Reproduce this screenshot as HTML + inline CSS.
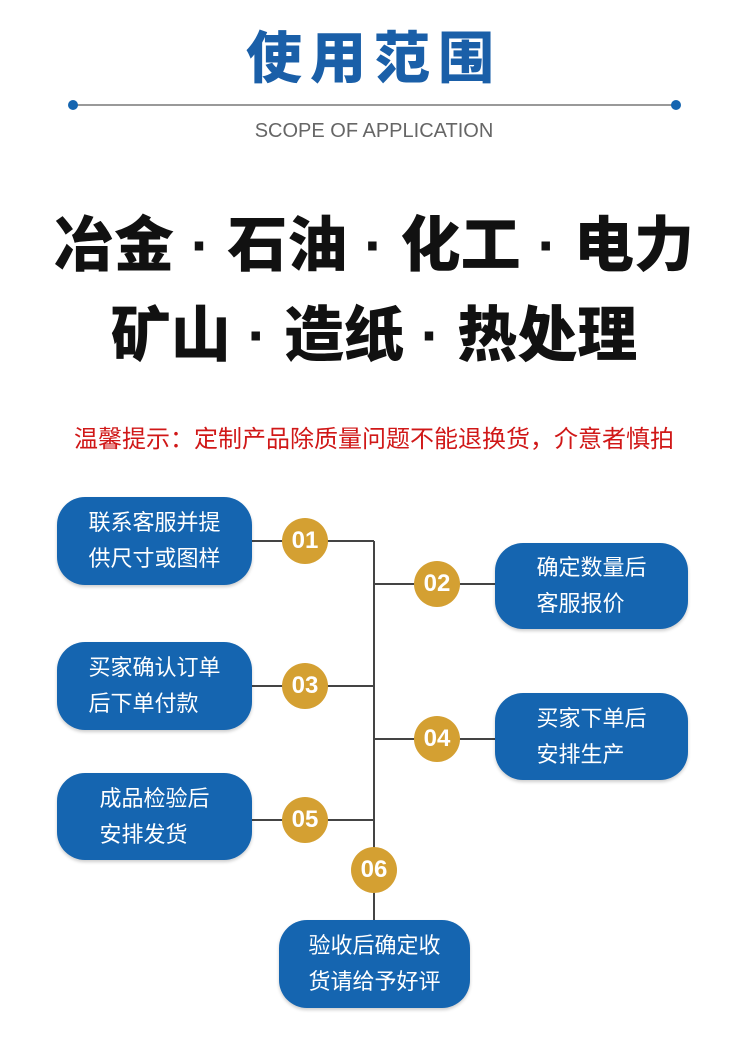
<!DOCTYPE html>
<html><head><meta charset="utf-8"><style>
body{margin:0;width:748px;height:1042px;background:#fff;position:relative;overflow:hidden;font-family:"Liberation Sans","Noto Sans CJK SC",sans-serif}
.a{position:absolute}
.t{left:0;width:748px;text-align:center}
.box{position:absolute;background:#1565b0;border-radius:28px;color:#fff;font-size:22px;line-height:36px;display:flex;align-items:center;justify-content:center;text-align:left;box-shadow:0 2px 3px rgba(0,0,0,.2)}
.c{position:absolute;width:46px;height:46px;border-radius:50%;background:#d4a032;color:#fff;font-weight:bold;font-size:24px;line-height:46px;text-align:center;margin:-23px 0 0 -23px}
.h{position:absolute;height:2px;background:#444}
.v{position:absolute;width:2px;background:#444}
</style></head><body>
<div class="a t" style="top:24px;font-size:56px;font-weight:900;color:#1a5fa8;letter-spacing:8px;line-height:70px">使用范围</div>
<div class="a" style="left:74px;top:104px;width:600px;height:2px;background:#999"></div>
<div class="a" style="left:68px;top:100px;width:10px;height:10px;border-radius:50%;background:#1565b0"></div>
<div class="a" style="left:671px;top:100px;width:10px;height:10px;border-radius:50%;background:#1565b0"></div>
<div class="a t" style="top:118px;font-size:20px;color:#666;line-height:26px">SCOPE OF APPLICATION</div>
<div class="a t" style="top:210px;font-size:60px;font-weight:900;color:#111;line-height:72px">冶金 · 石油 · 化工 · 电力</div>
<div class="a t" style="top:300px;font-size:60px;font-weight:900;color:#111;line-height:72px">矿山 · 造纸 · 热处理</div>
<div class="a t" style="top:424px;font-size:24px;color:#d01818;line-height:32px">温馨提示：定制产品除质量问题不能退换货，介意者慎拍</div>

<div class="v" style="left:373px;top:541px;height:380px"></div>
<div class="h" style="left:252px;top:540px;width:122px"></div>
<div class="h" style="left:374px;top:583px;width:122px"></div>
<div class="h" style="left:252px;top:685px;width:122px"></div>
<div class="h" style="left:374px;top:738px;width:122px"></div>
<div class="h" style="left:252px;top:819px;width:122px"></div>

<div class="box" style="left:57px;top:497px;width:195px;height:88px">联系客服并提<br>供尺寸或图样</div>
<div class="box" style="left:495px;top:543px;width:193px;height:86px">确定数量后<br>客服报价</div>
<div class="box" style="left:57px;top:642px;width:195px;height:88px">买家确认订单<br>后下单付款</div>
<div class="box" style="left:495px;top:693px;width:193px;height:87px">买家下单后<br>安排生产</div>
<div class="box" style="left:57px;top:773px;width:195px;height:87px">成品检验后<br>安排发货</div>
<div class="box" style="left:279px;top:920px;width:191px;height:88px">验收后确定收<br>货请给予好评</div>

<div class="c" style="left:305px;top:541px">01</div>
<div class="c" style="left:437px;top:584px">02</div>
<div class="c" style="left:305px;top:686px">03</div>
<div class="c" style="left:437px;top:739px">04</div>
<div class="c" style="left:305px;top:820px">05</div>
<div class="c" style="left:374px;top:870px">06</div>
</body></html>
